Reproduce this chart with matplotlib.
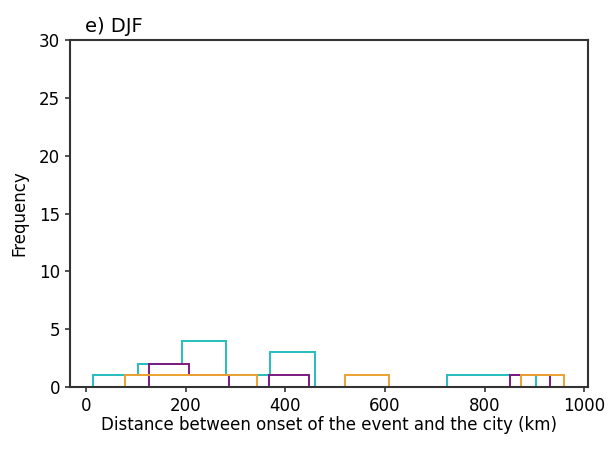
import matplotlib
matplotlib.use("Agg")
from matplotlib import pyplot as plt

# distances (km) per group
cyan_dist = [15, 140, 170, 210, 230, 250, 265, 320, 390, 410, 440, 760, 903]
purple_dist = [127, 180, 250, 400, 931]
orange_dist = [79, 210, 300, 560, 960]

series = [
    (cyan_dist, "#25bdbd"),
    (purple_dist, "#7e1a80"),
    (orange_dist, "#eda232"),
]

fig = plt.figure(figsize=(6.13, 4.5), dpi=100)
ax = fig.add_axes([0.114, 0.14, 0.845, 0.771])

for values, color in series:
    ax.hist(values, bins=10, histtype="step", color=color, linewidth=1.4)

for spine in ax.spines.values():
    spine.set_linewidth(1.5)
    spine.set_color("#333333")
    spine.set_zorder(5)

ax.set_xlim(-32, 1007)
ax.set_ylim(0, 30)
ax.set_xticks([0, 200, 400, 600, 800, 1000])
ax.set_yticks([0, 5, 10, 15, 20, 25, 30])
ax.tick_params(labelsize=12, width=1.2, color="#333333")
ax.set_xlabel("Distance between onset of the event and the city (km)", fontsize=12, labelpad=1)
ax.set_ylabel("Frequency", fontsize=12, labelpad=8)
ax.set_title("e) DJF", loc="left", x=0.03, fontsize=14, pad=6)

fig.savefig("out.png", dpi=100)
